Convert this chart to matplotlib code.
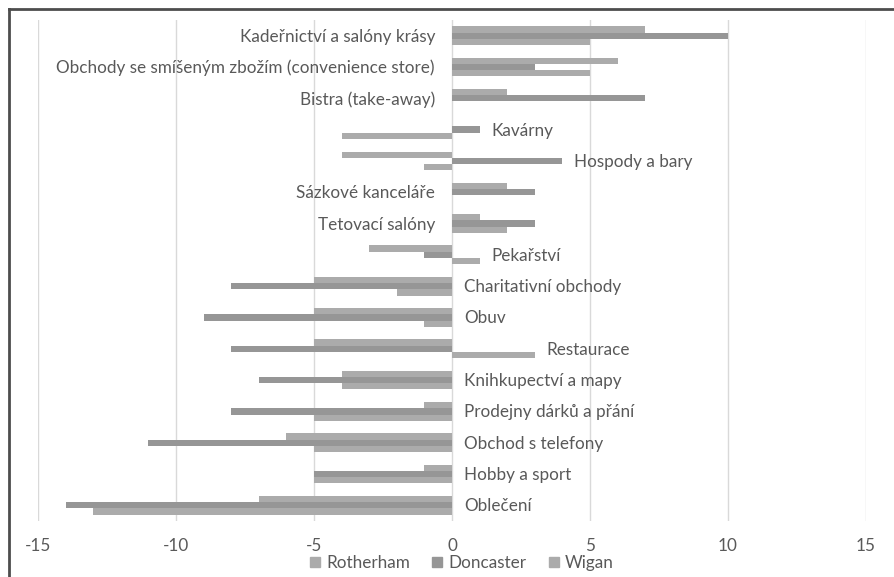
import matplotlib.pyplot as plt
import numpy as np
from matplotlib.lines import Line2D

plt.rcParams['font.family'] = ['Lato', 'DejaVu Sans']

# kategorie obchodů, shora dolů
categories = [
    "Kadeřnictví a salóny krásy",
    "Obchody se smíšeným zbožím (convenience store)",
    "Bistra (take-away)",
    "Kavárny",
    "Hospody a bary",
    "Sázkové kanceláře",
    "Tetovací salóny",
    "Pekařství",
    "Charitativní obchody",
    "Obuv",
    "Restaurace",
    "Knihkupectví a mapy",
    "Prodejny dárků a přání",
    "Obchod s telefony",
    "Hobby a sport",
    "Oblečení",
]
series_names = ["Rotherham", "Doncaster", "Wigan"]
rotherham = [7, 6, 2, 0, -4, 2, 1, -3, -5, -5, -5, -4, -1, -6, -1, -7]
doncaster = [10, 3, 7, 1, 4, 3, 3, -1, -8, -9, -8, -7, -8, -11, -5, -14]
wigan = [5, 5, 0, -4, -1, 0, 2, 1, -2, -1, 3, -4, -5, -5, -5, -13]
x_ticks = [-15, -10, -5, 0, 5, 10, 15]

light = "#ababab"
dark = "#969696"
text_col = "#595959"
colors = [light, dark, light]
fs = 12.3

fig = plt.figure(figsize=(8.94, 5.77), dpi=100)
ax = fig.add_axes([38 / 894, 1 - 521 / 577, 828 / 894, 501 / 577])

y = np.arange(len(categories))
h = 0.2
for i, (vals, col) in enumerate(zip([rotherham, doncaster, wigan], colors)):
    ax.barh(y + (i - 1) * h, vals, height=h, color=col, zorder=2)

ax.set_xlim(-15, 15)
ax.set_ylim(len(categories) - 0.5, -0.5)
ax.set_xticks(x_ticks)
ax.set_xticklabels([str(t) for t in x_ticks])
ax.set_yticks([])
ax.tick_params(axis='x', length=0, pad=12, labelsize=fs, labelcolor=text_col)
ax.grid(axis='x', color="#d9d9d9", linewidth=1, zorder=0)
for s in ax.spines.values():
    s.set_visible(False)

# popisky kategorií u osy: vlevo když jsou všechny hodnoty kladné, jinak vpravo za nejdelším kladným pruhem
for i, name in enumerate(categories):
    vals = [rotherham[i], doncaster[i], wigan[i]]
    if min(vals) >= 0:
        ax.annotate(name, (0, i), xytext=(-17, -1), textcoords='offset pixels',
                    ha='right', va='center', fontsize=fs, color=text_col)
    else:
        ax.annotate(name, (max(0, max(vals)), i), xytext=(12, -1), textcoords='offset pixels',
                    ha='left', va='center', fontsize=fs, color=text_col)

handles = [Line2D([], [], marker='s', linestyle='none', markersize=7.5,
                  markerfacecolor=c, markeredgecolor=c) for c in colors]
fig.legend(handles, series_names, loc='center', bbox_to_anchor=(461 / 894, 1 - 563 / 577),
           ncol=3, frameon=False, fontsize=fs, labelcolor=text_col,
           handlelength=0.8, handletextpad=0.25, columnspacing=1.2, borderaxespad=0)

# rámeček grafu (horní a levá hrana)
fig.add_artist(Line2D([9 / 894, 9 / 894], [0, 1 - 9 / 577], transform=fig.transFigure,
                      color="#4d4d4d", linewidth=2))
fig.add_artist(Line2D([9 / 894, 1], [1 - 9 / 577, 1 - 9 / 577], transform=fig.transFigure,
                      color="#4d4d4d", linewidth=2))

fig.savefig("out.png", dpi=100)
